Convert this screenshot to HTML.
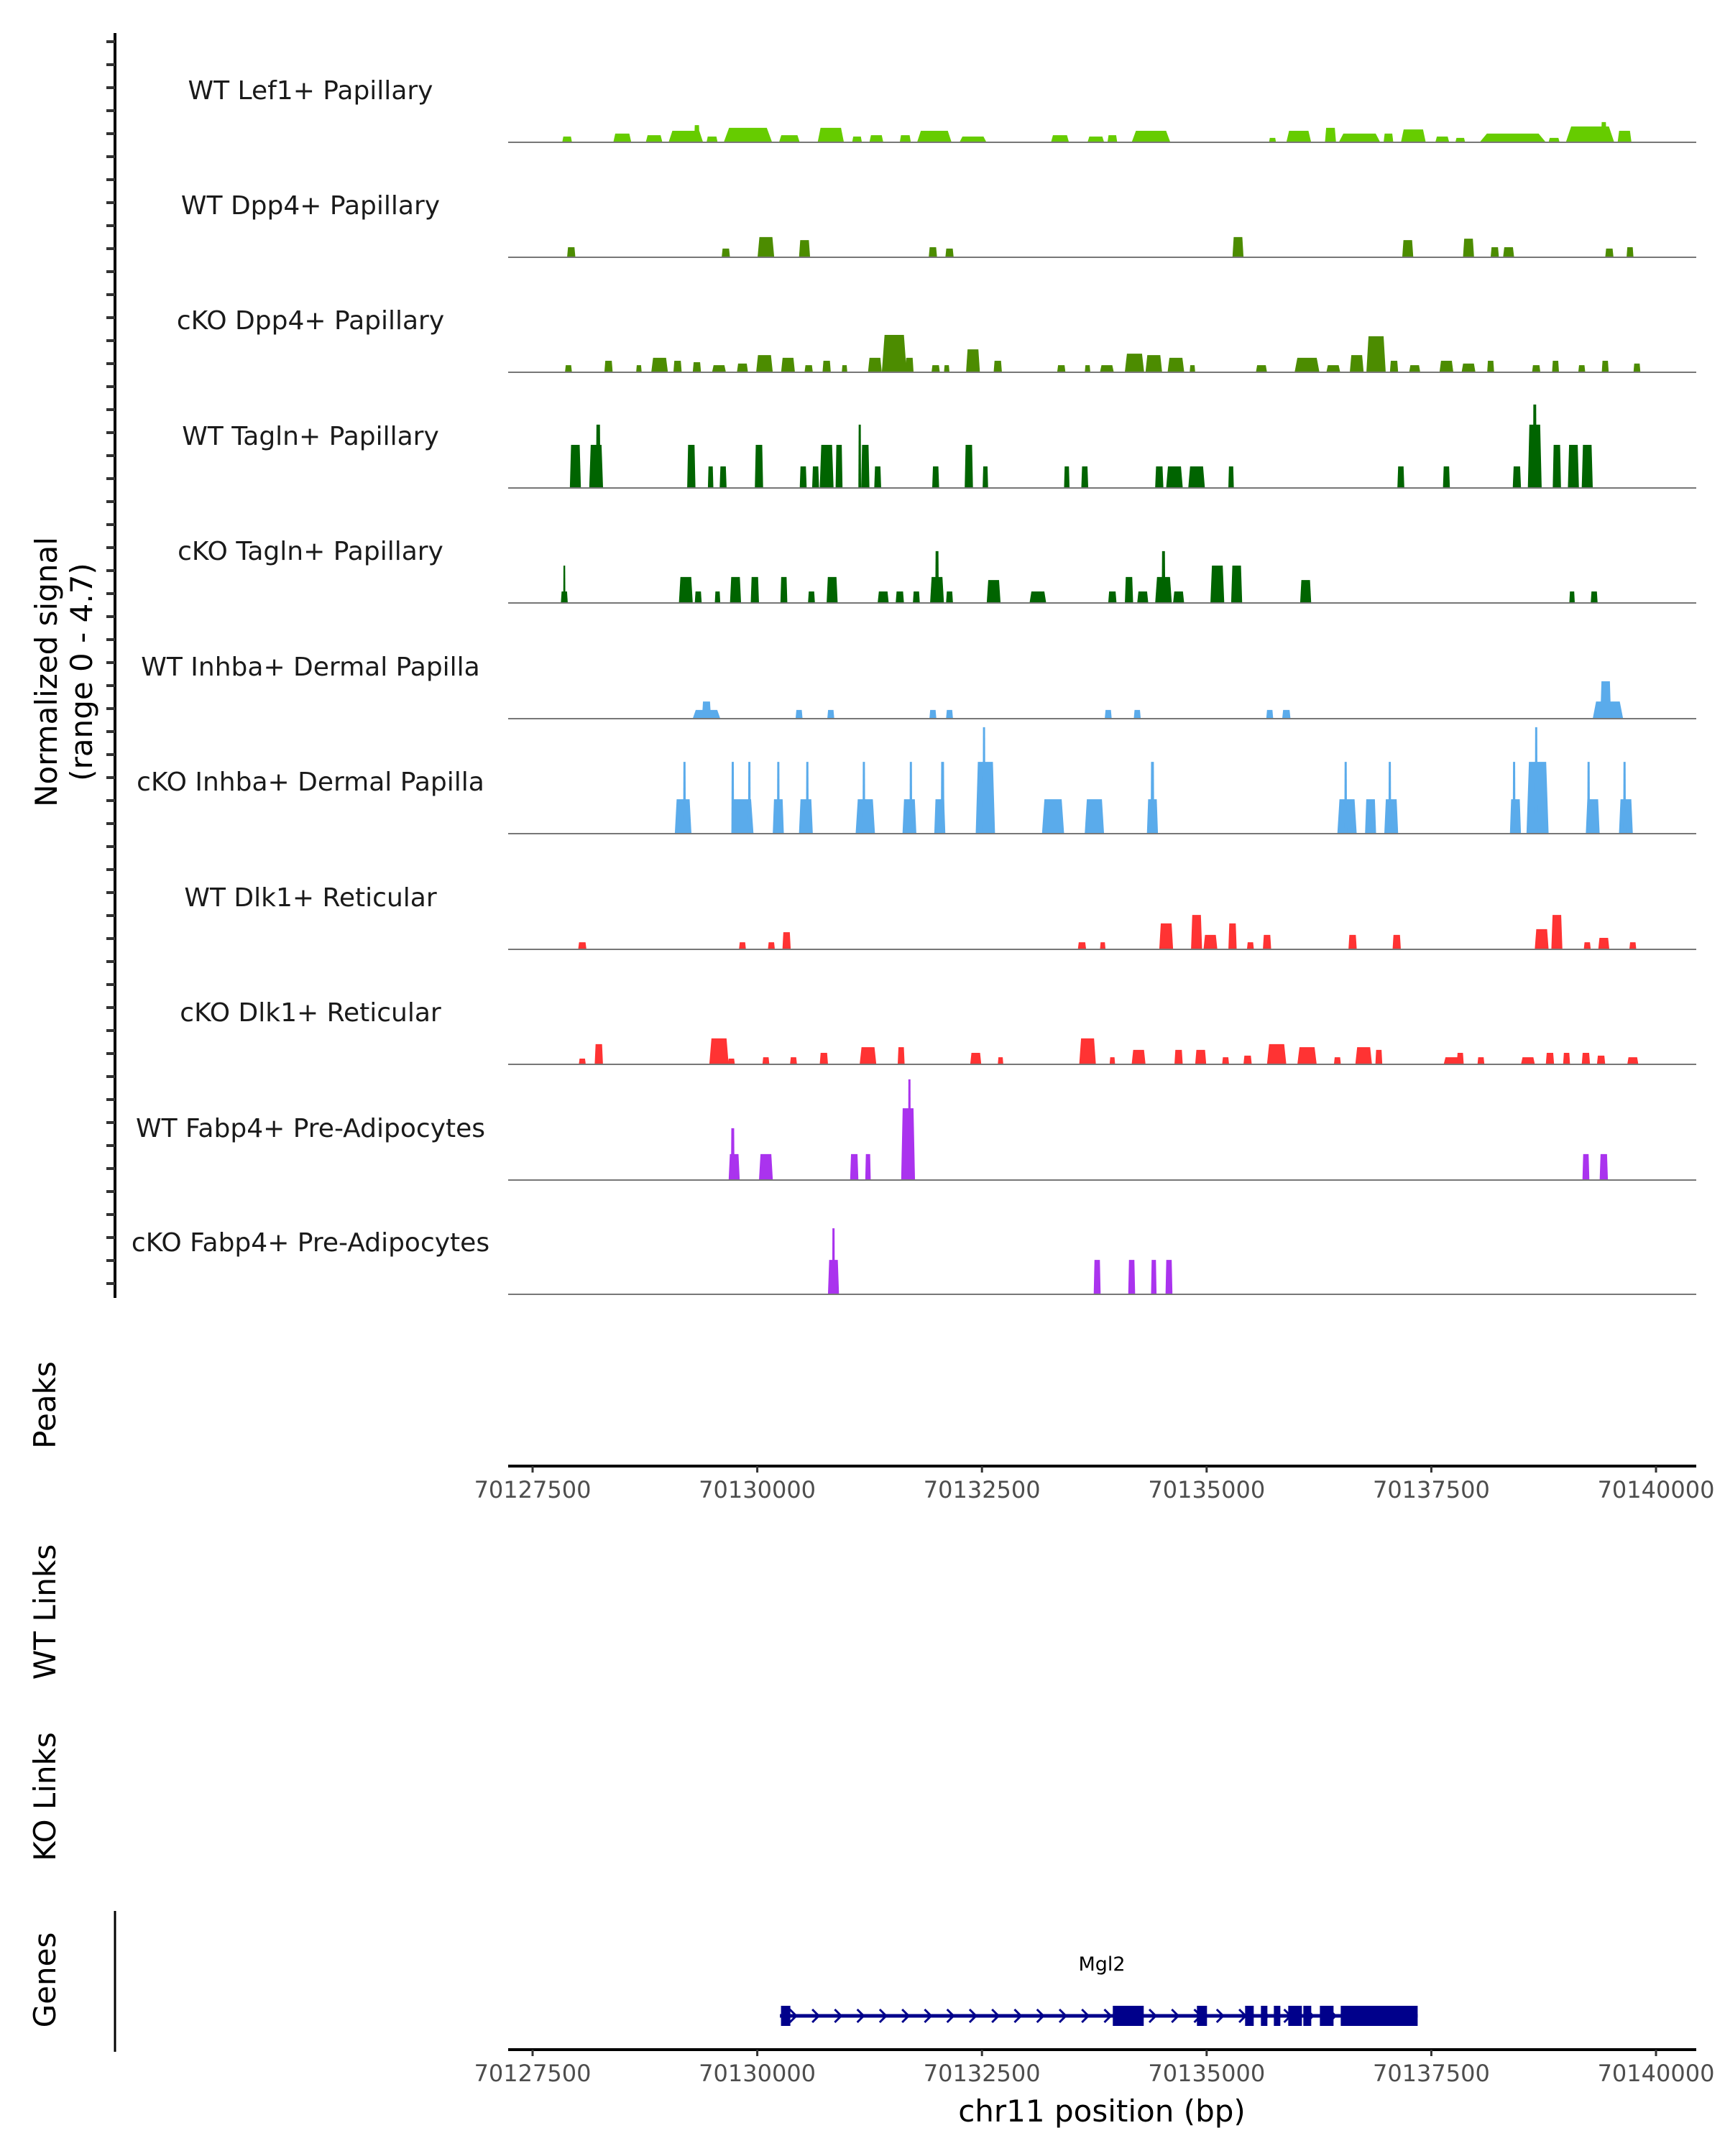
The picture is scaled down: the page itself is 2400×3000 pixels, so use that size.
<!DOCTYPE html>
<html><head><meta charset="utf-8">
<style>
html,body{margin:0;padding:0;background:#fff;}
svg{display:block;font-family:"DejaVu Sans","Liberation Sans",sans-serif;}
</style></head>
<body>
<svg id="chart" width="2400" height="3000" viewBox="0 0 2400 3000" xmlns="http://www.w3.org/2000/svg">
<g id="marks"></g>
</svg>
<script>
// ---- data ----
const trackNames = ["WT Lef1+ Papillary","WT Dpp4+ Papillary","cKO Dpp4+ Papillary","WT Tagln+ Papillary","cKO Tagln+ Papillary","WT Inhba+ Dermal Papilla","cKO Inhba+ Dermal Papilla","WT Dlk1+ Reticular","cKO Dlk1+ Reticular","WT Fabp4+ Pre-Adipocytes","cKO Fabp4+ Pre-Adipocytes"];
const trackColors = ["#66cc00","#4c8c00","#4c8c00","#006400","#006400","#5aabeb","#5aabeb","#ff3333","#ff3333","#aa33ee","#aa33ee"];
const xTicks = [70127500,70130000,70132500,70135000,70137500,70140000];
const signalMax = 4.7;
// peaks per track: [center bp, width bp, signal]
const lef1 = [[70127884,108,0.25],[70128498,200,0.38],[70128852,185,0.31],[70129205,384,0.5],[70129328,60,0.75],[70129497,123,0.25],[70129896,538,0.63],[70130357,230,0.31],[70130818,292,0.63],[70131110,108,0.25],[70131325,154,0.31],[70131647,123,0.31],[70131970,384,0.5],[70132400,300,0.25],[70133368,200,0.31],[70133767,185,0.25],[70133951,108,0.31],[70134381,430,0.5],[70135733,77,0.19],[70136025,276,0.5],[70136378,123,0.63],[70136701,461,0.38],[70137023,108,0.38],[70137300,276,0.56],[70137622,154,0.25],[70137822,108,0.19],[70138406,737,0.38],[70138866,123,0.19],[70139266,538,0.69],[70139419,60,0.88],[70139650,154,0.5]];
const wtDpp4 = [[70127930,92,0.44],[70129650,92,0.38],[70130096,185,0.88],[70130526,123,0.75],[70131954,92,0.44],[70132139,92,0.38],[70135349,123,0.88],[70137238,123,0.75],[70137914,123,0.81],[70138206,92,0.44],[70138360,123,0.44],[70139481,92,0.38],[70139711,77,0.44]];
const koDpp4 = [[70127899,77,0.31],[70128345,92,0.5],[70128683,61,0.31],[70128913,185,0.63],[70129113,92,0.5],[70129328,92,0.44],[70129574,154,0.31],[70129835,123,0.38],[70130080,185,0.75],[70130342,154,0.63],[70130572,92,0.31],[70130772,92,0.5],[70130971,61,0.31],[70131309,154,0.63],[70131524,276,1.63],[70131693,92,0.63],[70131985,92,0.31],[70132108,61,0.31],[70132400,154,1.0],[70132676,92,0.5],[70133383,92,0.31],[70133675,61,0.31],[70133890,154,0.31],[70134197,215,0.81],[70134412,185,0.75],[70134658,185,0.63],[70134842,61,0.31],[70135610,123,0.31],[70136117,276,0.63],[70136409,154,0.31],[70136670,154,0.75],[70136885,215,1.57],[70137085,92,0.5],[70137315,123,0.31],[70137668,154,0.5],[70137914,154,0.38],[70138160,77,0.5],[70138667,92,0.31],[70138882,77,0.5],[70139174,77,0.31],[70139435,77,0.5],[70139788,77,0.38]];
const wtTagln = [[70127976,123,1.88],[70128207,154,1.88],[70128230,50,2.76],[70129266,92,1.88],[70129481,61,0.94],[70129620,77,0.94],[70130019,92,1.88],[70130511,77,0.94],[70130649,77,0.94],[70130772,154,1.88],[70130910,77,1.88],[70131140,30,2.76],[70131202,92,1.88],[70131340,77,0.94],[70131985,77,0.94],[70132354,92,1.88],[70132538,61,0.94],[70133444,61,0.94],[70133644,77,0.94],[70134473,92,0.94],[70134642,185,0.94],[70134888,185,0.94],[70135272,61,0.94],[70137161,77,0.94],[70137668,77,0.94],[70138452,92,0.94],[70138651,154,2.76],[70138651,40,3.64],[70138897,92,1.88],[70139081,123,1.88],[70139235,123,1.88]];
const koTagln = [[70127853,77,0.5],[70127853,20,1.63],[70129205,154,1.13],[70129343,77,0.5],[70129558,61,0.5],[70129758,123,1.13],[70129973,92,1.13],[70130296,77,1.13],[70130603,77,0.5],[70130833,123,1.13],[70131401,123,0.5],[70131586,92,0.5],[70131770,77,0.5],[70132000,154,1.13],[70132000,40,2.26],[70132139,77,0.5],[70132630,154,1.0],[70133122,185,0.5],[70133951,92,0.5],[70134136,92,1.13],[70134289,123,0.5],[70134520,185,1.13],[70134520,40,2.26],[70134688,123,0.5],[70135119,154,1.63],[70135334,123,1.63],[70136102,123,1.0],[70139066,61,0.5],[70139312,77,0.5]];
const wtInhba = [[70129435,307,0.38],[70129435,100,0.75],[70130465,77,0.38],[70130818,77,0.38],[70131954,77,0.38],[70132139,77,0.38],[70133905,77,0.38],[70134228,77,0.38],[70135702,77,0.38],[70135887,92,0.38],[70139465,338,0.75],[70139440,120,1.63]];
const koInhba = [[70129175,185,1.5],[70129190,30,3.13],[70129835,246,1.5],[70129727,30,3.13],[70129912,30,3.13],[70130234,123,1.5],[70130234,30,3.13],[70130541,154,1.5],[70130557,30,3.13],[70131202,215,1.5],[70131186,30,3.13],[70131693,154,1.5],[70131709,30,3.13],[70132031,123,1.5],[70132062,40,3.13],[70132538,215,3.13],[70132523,30,4.64],[70133291,246,1.5],[70133751,215,1.5],[70134397,123,1.5],[70134397,40,3.13],[70136562,215,1.5],[70136547,30,3.13],[70136824,123,1.5],[70137054,154,1.5],[70137038,30,3.13],[70138436,123,1.5],[70138421,30,3.13],[70138682,246,3.13],[70138667,30,4.64],[70139296,154,1.5],[70139250,30,3.13],[70139665,154,1.5],[70139650,30,3.13]];
const wtDlk1 = [[70128053,92,0.31],[70129835,77,0.31],[70130157,77,0.31],[70130326,92,0.75],[70133613,92,0.31],[70133844,61,0.31],[70134550,154,1.13],[70134888,123,1.5],[70135042,154,0.63],[70135288,92,1.13],[70135487,77,0.31],[70135672,92,0.63],[70136624,92,0.63],[70137115,92,0.63],[70138728,154,0.88],[70138897,123,1.5],[70139235,77,0.31],[70139419,123,0.5],[70139742,77,0.31]];
const koDlk1 = [[70128053,77,0.25],[70128237,92,0.88],[70129574,215,1.13],[70129712,77,0.25],[70130096,77,0.31],[70130403,77,0.31],[70130741,92,0.5],[70131232,185,0.75],[70131601,77,0.75],[70132431,123,0.5],[70132707,61,0.31],[70133675,185,1.13],[70133951,61,0.31],[70134243,154,0.63],[70134688,92,0.63],[70134934,123,0.63],[70135211,77,0.31],[70135456,92,0.38],[70135779,215,0.88],[70136117,215,0.75],[70136455,77,0.31],[70136747,185,0.75],[70136916,77,0.63],[70137730,185,0.31],[70137822,77,0.5],[70138052,77,0.31],[70138575,154,0.31],[70138820,92,0.5],[70139005,77,0.5],[70139220,92,0.5],[70139389,92,0.38],[70139742,123,0.31]];
const wtFabp4 = [[70129743,123,1.13],[70129727,40,2.26],[70130096,154,1.13],[70131079,92,1.13],[70131232,61,1.13],[70131678,154,3.13],[70131693,30,4.39],[70139220,77,1.13],[70139419,92,1.13]];
const koFabp4 = [[70130848,123,1.5],[70130848,30,2.88],[70133782,77,1.5],[70134166,77,1.5],[70134412,61,1.5],[70134581,77,1.5]];
const trackPeaks = [lef1,wtDpp4,koDpp4,wtTagln,koTagln,wtInhba,koInhba,wtDlk1,koDlk1,wtFabp4,koFabp4];
// gene Mgl2
const geneStart = 70130252, geneEnd = 70137348;
const exonCenters = [70130316,70134128,70134948,70135476,70135640,70135784,70135984,70136120,70136336,70136920];
const exonWidths = [104,344,112,96,72,72,152,88,152,856];

// ---- layout ----
const NS = "http://www.w3.org/2000/svg";
const svg = document.getElementById('chart');
const X0 = 707, X1 = 2360;
function xScale(bp){ return 741 + (bp - 70127500) * 0.12504; }
const baselines = [198,358,518,679,839,1000,1160,1321,1481,1642,1801];
const trackH = 150;
function yScale(v, i){ return baselines[i] - v / signalMax * trackH; }
function mk(tag, attrs, parent){ const e=document.createElementNS(NS,tag); for(const k in attrs) e.setAttribute(k,attrs[k]); (parent||svg).appendChild(e); return e; }
function txt(s, attrs){ const t=mk('text',attrs); t.textContent=s; return t; }

// left axis
let el = mk('line',{x1:160,y1:46,x2:160,y2:1806,stroke:'#000','stroke-width':4});


for(let y=58; y<1806; y+=32){
  const tk = mk('line',{x1:148,y1:y,x2:160,y2:y,stroke:'#333','stroke-width':4});
  
  
}
el = txt('Normalized signal',{x:0,y:0,'font-size':42,'text-anchor':'middle',fill:'#000',transform:'translate(79,935) rotate(-90)'});


el = txt('(range 0 - 4.7)',{x:0,y:0,'font-size':42,'text-anchor':'middle',fill:'#000',transform:'translate(128,935) rotate(-90)'});



// tracks
trackNames.forEach((name,i)=>{
  const g = mk('g',{});
  
  
  const lab = txt(name,{x:432,y:baselines[i]-60,'font-size':36,'text-anchor':'middle',fill:'#1a1a1a'});
  g.appendChild(lab);
  
  
  trackPeaks[i].forEach(p=>{
    const c=xScale(p[0]), w=Math.max(p[1]*0.12504,3), y=yScale(p[2],i), b=baselines[i];
    const top = Math.max(w*0.78,1.5);
    const poly = mk('polygon',{points:`${c-w/2},${b} ${c-top/2},${y} ${c+top/2},${y} ${c+w/2},${b}`,fill:trackColors[i]},g);
    
    
  });
  const bl = mk('line',{x1:X0,y1:baselines[i],x2:X1,y2:baselines[i],stroke:'#777','stroke-width':2},g);
  
  
});

// side titles
[['Peaks',63,1955],['WT Links',63,2243],['KO Links',63,2500],['Genes',63,2755]].forEach(d=>{
  const t = txt(d[0],{x:0,y:0,'font-size':42,'text-anchor':'middle',fill:'#000',transform:`translate(${d[1]+14},${d[2]}) rotate(-90)`});
  
  
});
el = mk('line',{x1:160,y1:2659,x2:160,y2:2855,stroke:'#000','stroke-width':3});



// x axes
function xAxis(y, nm){
  const g = mk('g',{});
  
  
  mk('line',{x1:X0,y1:y,x2:X1,y2:y,stroke:'#000','stroke-width':4},g);
  xTicks.forEach(t=>{
    const x=xScale(t);
    mk('line',{x1:x,y1:y,x2:x,y2:y+9,stroke:'#333','stroke-width':3},g);
    const l = txt(String(t),{x:x,y:y+44,'font-size':32,'text-anchor':'middle',fill:'#4d4d4d'});
    g.appendChild(l);
    
    
  });
}
xAxis(2040,'peaks-x-axis');
xAxis(2852,'genes-x-axis');
el = txt('chr11 position (bp)',{x:1533,y:2952,'font-size':42,'text-anchor':'middle',fill:'#000'});



// gene model
const gg = mk('g',{});


const gy = 2805;
mk('line',{x1:xScale(geneStart),y1:gy,x2:xScale(geneEnd),y2:gy,stroke:'#00008b','stroke-width':5},gg);
for(let bp=geneStart+150; bp<geneEnd; bp+=250){
  const x=xScale(bp);
  mk('polyline',{points:`${x-5},${gy-9} ${x+4},${gy} ${x-5},${gy+9}`,fill:'none',stroke:'#00008b','stroke-width':3},gg);
}
exonCenters.forEach((c,i)=>{
  const w=exonWidths[i]*0.12504;
  const r = mk('rect',{x:xScale(c)-w/2,y:gy-14,width:w,height:28,fill:'#00008b'},gg);
  
  
});
el = txt('Mgl2',{x:1533,y:2742,'font-size':27,'text-anchor':'middle',fill:'#000'});


</script>
</body></html>
